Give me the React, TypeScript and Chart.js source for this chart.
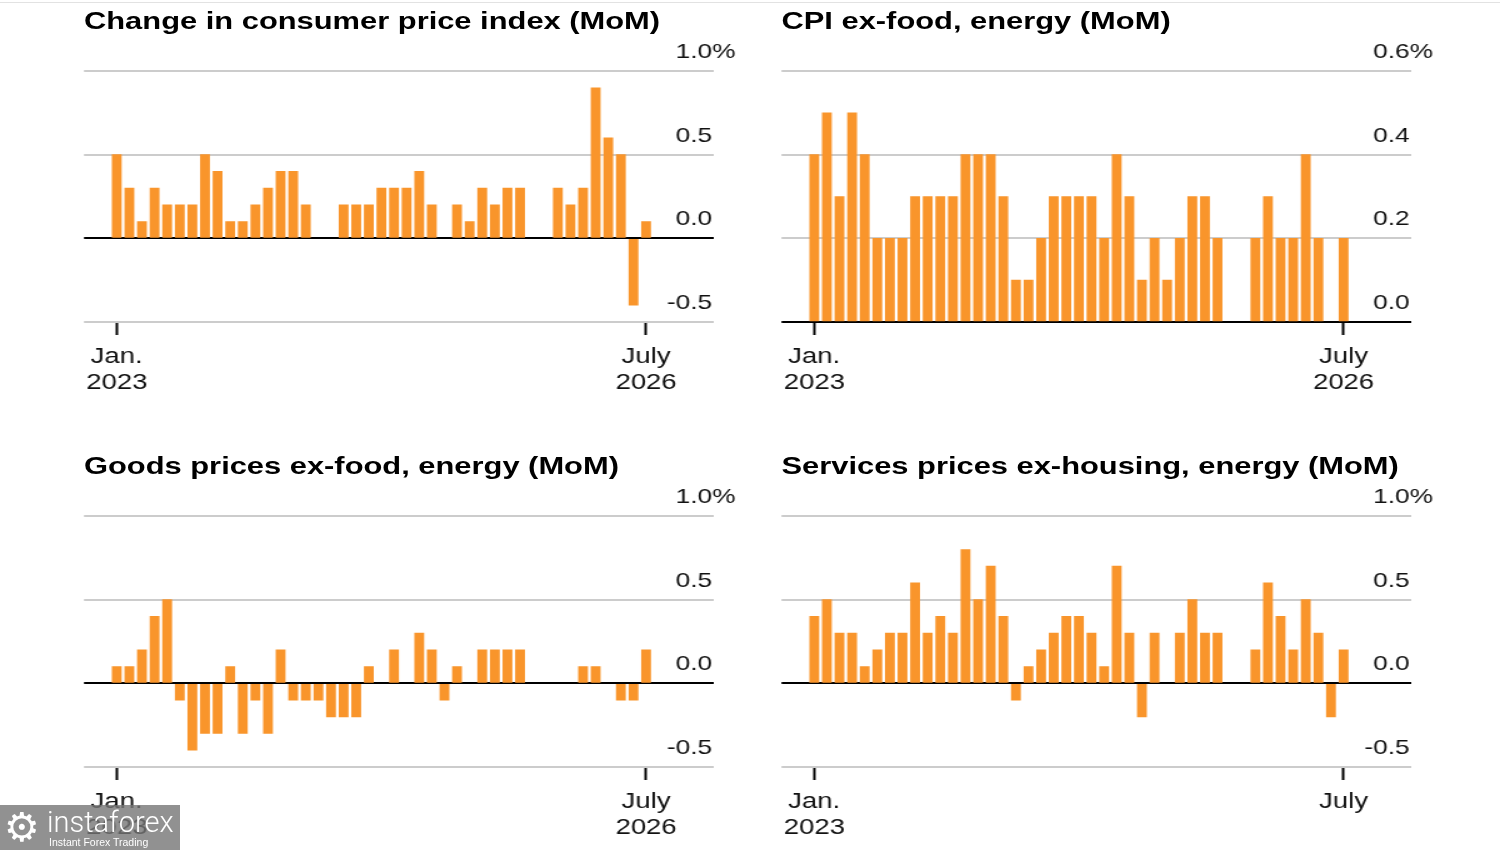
import { useEffect, useRef } from 'react';
import { Chart, registerables } from 'chart.js';

Chart.register(...registerables);

// the source picture is stretched sideways, so the whole page is drawn narrow and scaled back out
const SX = 1.25;
const FONT = '"Liberation Sans", Arial, Helvetica, sans-serif';
const BAR = '#F9952B';
const GRID = '#cccccc';

const months = [
  '2023-01', '2023-02', '2023-03', '2023-04', '2023-05', '2023-06', '2023-07', '2023-08', '2023-09', '2023-10', '2023-11', '2023-12',
  '2024-01', '2024-02', '2024-03', '2024-04', '2024-05', '2024-06', '2024-07', '2024-08', '2024-09', '2024-10', '2024-11', '2024-12',
  '2025-01', '2025-02', '2025-03', '2025-04', '2025-05', '2025-06', '2025-07', '2025-08', '2025-09', '2025-10', '2025-11', '2025-12',
  '2026-01', '2026-02', '2026-03', '2026-04', '2026-05', '2026-06', '2026-07',
];

const cpiMoM = [
  0.5, 0.3, 0.1, 0.3, 0.2, 0.2, 0.2, 0.5, 0.4, 0.1, 0.1, 0.2, 0.3, 0.4, 0.4, 0.2,
  null, null, 0.2, 0.2, 0.2, 0.3, 0.3, 0.3, 0.4, 0.2, null, 0.2, 0.1, 0.3, 0.2, 0.3, 0.3,
  null, null, 0.3, 0.2, 0.3, 0.9, 0.6, 0.5, -0.4, 0.1,
];

const coreMoM = [
  0.4, 0.5, 0.3, 0.5, 0.4, 0.2, 0.2, 0.2, 0.3, 0.3, 0.3, 0.3, 0.4, 0.4, 0.4, 0.3,
  0.1, 0.1, 0.2, 0.3, 0.3, 0.3, 0.3, 0.2, 0.4, 0.3, 0.1, 0.2, 0.1, 0.2, 0.3, 0.3, 0.2,
  null, null, 0.2, 0.3, 0.2, 0.2, 0.4, 0.2, null, 0.2,
];

const goodsMoM = [
  0.1, 0.1, 0.2, 0.4, 0.5, -0.1, -0.4, -0.3, -0.3, 0.1, -0.3, -0.1, -0.3, 0.2, -0.1, -0.1,
  -0.1, -0.2, -0.2, -0.2, 0.1, null, 0.2, null, 0.3, 0.2, -0.1, 0.1, null, 0.2, 0.2, 0.2, 0.2,
  null, null, null, null, 0.1, 0.1, null, -0.1, -0.1, 0.2,
];

const servicesMoM = [
  0.4, 0.5, 0.3, 0.3, 0.1, 0.2, 0.3, 0.3, 0.6, 0.3, 0.4, 0.3, 0.8, 0.5, 0.7, 0.4,
  -0.1, 0.1, 0.2, 0.3, 0.4, 0.4, 0.3, 0.1, 0.7, 0.3, -0.2, 0.3, null, 0.3, 0.5, 0.3, 0.3,
  null, null, 0.2, 0.6, 0.4, 0.2, 0.5, 0.3, -0.2, 0.2,
];

const firstTick = ['Jan.', '2023'];
const lastTick = ['July', '2026'];
const lastTickCut = ['July'];

interface PanelProps {
  title: string;
  values: (number | null)[];
  yMin: number;
  yMax: number;
  yStep: number;
  endLabel: string[];
  col: number;
  row: number;
}

function Panel({ title, values, yMin, yMax, yStep, endLabel, col, row }: PanelProps) {
  const canvasRef = useRef<HTMLCanvasElement | null>(null);

  const left = col === 0 ? 69.5 : 767;
  const top = row * 445;

  useEffect(() => {
    const tickIdx = [months.indexOf('2023-01'), months.indexOf('2026-07')];

    // value labels sit above their grid line, right aligned, the top one with a hanging %
    const yLabels = {
      id: 'yLabels',
      afterDatasetsDraw(chart: any) {
        const { ctx, chartArea, scales } = chart;
        const ys = scales.y;
        ctx.save();
        ctx.font = `21px ${FONT}`;
        ctx.fillStyle = '#111';
        ctx.textBaseline = 'alphabetic';
        const x = chartArea.right - 1;
        ys.ticks.forEach((t: any, i: number) => {
          const py = ys.getPixelForValue(t.value) - 13;
          ctx.textAlign = 'right';
          ctx.fillText(t.value.toFixed(1), x, py);
          if (i === ys.ticks.length - 1) {
            ctx.textAlign = 'left';
            ctx.fillText('%', x, py);
          }
        });
        ctx.restore();
      },
    };

    const chart = new Chart(canvasRef.current as HTMLCanvasElement, {
      type: 'bar',
      data: {
        datasets: [
          {
            data: values.map((v, i) => ({ x: i, y: v })) as any,
            backgroundColor: BAR,
            borderWidth: 0,
            barThickness: 9 / SX,
          },
        ],
      },
      options: {
        animation: false,
        responsive: true,
        maintainAspectRatio: false,
        events: [],
        layout: { padding: { left: 14 / SX, right: 37.2, top: 31, bottom: 0 } },
        plugins: { legend: { display: false }, tooltip: { enabled: false } },
        scales: {
          x: {
            type: 'linear',
            offset: false,
            min: -2.6,
            max: 47.35,
            afterBuildTicks: (s: any) => {
              s.ticks = tickIdx.map((v) => ({ value: v }));
            },
            afterFit: (s: any) => {
              s.height = 78;
            },
            ticks: {
              autoSkip: false,
              maxRotation: 0,
              color: '#111',
              padding: 9.5,
              font: { family: FONT, size: 22, lineHeight: 1.15 },
              callback: (v: any) => (v === tickIdx[0] ? firstTick : endLabel),
            },
            grid: {
              offset: false,
              drawOnChartArea: false,
              drawTicks: true,
              tickLength: 13,
              tickColor: '#000',
              tickWidth: 2,
            },
            border: { display: false },
          },
          y: {
            position: 'right',
            min: yMin,
            max: yMax,
            ticks: { display: false, stepSize: yStep },
            afterFit: (s: any) => {
              s.width = 0;
            },
            grid: {
              drawTicks: false,
              lineWidth: 2,
              color: (c: any) => (c.tick && Math.abs(c.tick.value) < 1e-9 ? '#000' : GRID),
            },
            border: { display: false },
          },
        },
      },
      plugins: [yLabels],
    });

    return () => chart.destroy();
  }, []);

  return (
    <>
      <div
        style={{
          position: 'absolute',
          left: (left + 14.5) / SX,
          top: top + 8,
          fontFamily: FONT,
          fontWeight: 700,
          fontSize: 24.7,
          lineHeight: '25px',
          color: '#000',
          whiteSpace: 'nowrap',
        }}
      >
        {title}
      </div>
      <div
        style={{
          position: 'absolute',
          left: left / SX,
          top: top + 40,
          width: 552,
          height: 360,
        }}
      >
        <canvas ref={canvasRef}></canvas>
      </div>
    </>
  );
}

export default function App() {
  return (
    <div style={{ position: 'fixed', left: 0, top: 0, width: 1500, height: 850, background: '#fff', overflow: 'hidden' }}>
      <div style={{ position: 'absolute', left: 0, top: 2, width: 1500, height: 1, background: '#e2e2e2' }} />
      <div
        style={{
          position: 'absolute',
          left: 0,
          top: 0,
          width: 1500 / SX,
          height: 850,
          transform: `scaleX(${SX})`,
          transformOrigin: '0 0',
        }}
      >
        <Panel title="Change in consumer price index (MoM)" values={cpiMoM} yMin={-0.5} yMax={1.0} yStep={0.5} endLabel={lastTick} col={0} row={0} />
        <Panel title="CPI ex-food, energy (MoM)" values={coreMoM} yMin={0} yMax={0.6} yStep={0.2} endLabel={lastTick} col={1} row={0} />
        <Panel title="Goods prices ex-food, energy (MoM)" values={goodsMoM} yMin={-0.5} yMax={1.0} yStep={0.5} endLabel={lastTick} col={0} row={1} />
        <Panel title="Services prices ex-housing, energy (MoM)" values={servicesMoM} yMin={-0.5} yMax={1.0} yStep={0.5} endLabel={lastTickCut} col={1} row={1} />
      </div>
      <div
        style={{
          position: 'absolute',
          left: 0,
          top: 805,
          width: 180,
          height: 45,
          background: 'rgba(118,118,118,0.8)',
          color: '#fff',
        }}
      >
        <div style={{ position: 'absolute', left: 4, top: 0, fontSize: 40, lineHeight: '45px', fontFamily: '"DejaVu Sans", sans-serif' }}>⚙</div>
        <div style={{ position: 'absolute', left: 47, top: 0, fontSize: 29, lineHeight: '34px', fontWeight: 300, fontFamily: 'Roboto, sans-serif' }}>
          instaforex
        </div>
        <div style={{ position: 'absolute', left: 49, top: 31, fontSize: 10.5, lineHeight: '13px', fontFamily: FONT }}>
          Instant Forex Trading
        </div>
      </div>
    </div>
  );
}
